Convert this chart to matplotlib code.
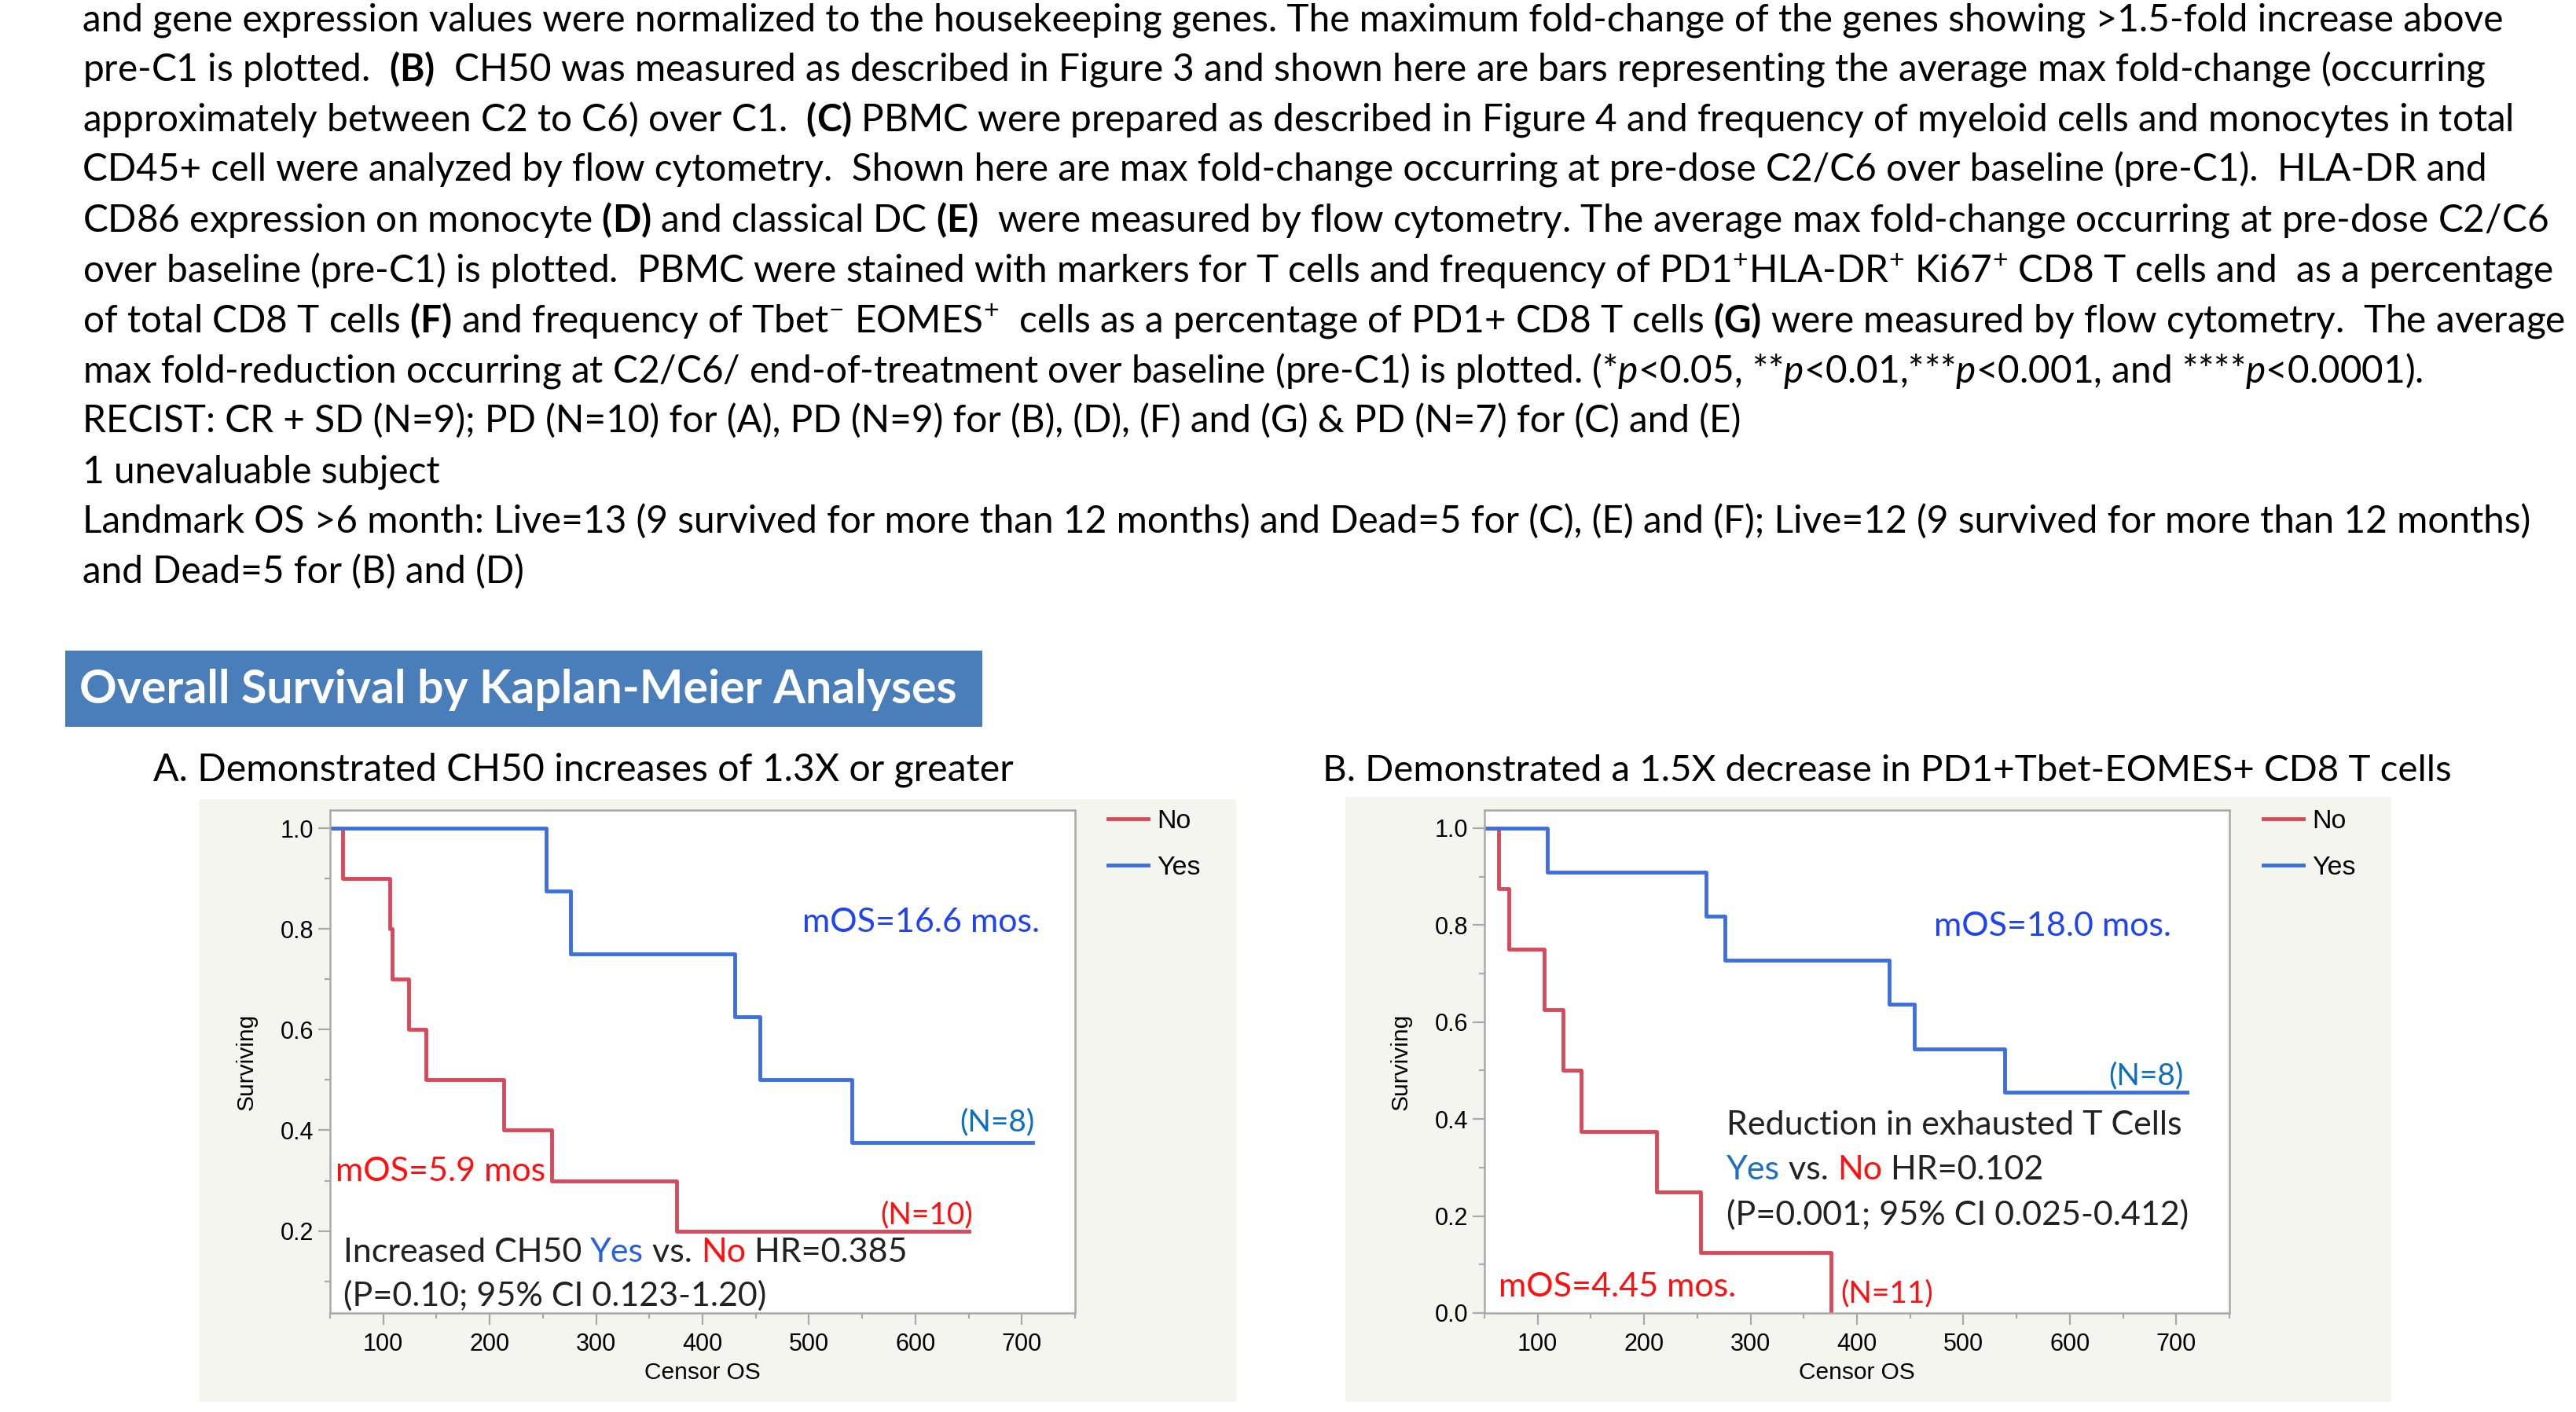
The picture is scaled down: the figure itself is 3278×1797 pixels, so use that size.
import matplotlib
matplotlib.use("Agg")
import matplotlib.pyplot as plt
from matplotlib.patches import Rectangle
from matplotlib.ticker import MultipleLocator, FormatStrFormatter

# === DATA ===
# A: CH50 increase >= 1.3X
a_no_time = [0, 62, 106, 108, 124, 140, 213, 258, 376, 650]
a_no_surv = [1.0, 0.9, 0.8, 0.7, 0.6, 0.5, 0.4, 0.3, 0.2, 0.2]
a_yes_time = [0, 253, 276, 430, 454, 540, 710]
a_yes_surv = [1.0, 0.875, 0.75, 0.625, 0.5, 0.375, 0.375]

# B: 1.5X decrease in PD1+Tbet-EOMES+ CD8 T cells
b_no_time = [0, 63, 73, 106, 124, 141, 212, 253, 376]
b_no_surv = [1.0, 0.875, 0.75, 0.625, 0.5, 0.375, 0.25, 0.125, 0.0]
b_yes_time = [0, 109, 258, 276, 430, 454, 539, 710]
b_yes_surv = [1.0, 0.909, 0.818, 0.727, 0.636, 0.545, 0.455, 0.455]

x_ticks = [100, 200, 300, 400, 500, 600, 700]

caption_lines = [
    "and gene expression values were normalized to the housekeeping genes. The maximum fold-change of the genes showing >1.5-fold increase above",
    r"pre-C1 is plotted.  $\mathbf{(B)}$  CH50 was measured as described in Figure 3 and shown here are bars representing the average max fold-change (occurring",
    r"approximately between C2 to C6) over C1.  $\mathbf{(C)}$ PBMC were prepared as described in Figure 4 and frequency of myeloid cells and monocytes in total",
    "CD45+ cell were analyzed by flow cytometry.  Shown here are max fold-change occurring at pre-dose C2/C6 over baseline (pre-C1).  HLA-DR and",
    r"CD86 expression on monocyte $\mathbf{(D)}$ and classical DC $\mathbf{(E)}$  were measured by flow cytometry. The average max fold-change occurring at pre-dose C2/C6",
    r"over baseline (pre-C1) is plotted.  PBMC were stained with markers for T cells and frequency of PD1$^{+}$HLA-DR$^{+}$ Ki67$^{+}$ CD8 T cells and  as a percentage",
    r"of total CD8 T cells $\mathbf{(F)}$ and frequency of Tbet$^{-}$ EOMES$^{+}$  cells as a percentage of PD1+ CD8 T cells $\mathbf{(G)}$ were measured by flow cytometry.  The average",
    r"max fold-reduction occurring at C2/C6/ end-of-treatment over baseline (pre-C1) is plotted. (*$p$<0.05, **$p$<0.01,***$p$<0.001, and ****$p$<0.0001).",
    "RECIST: CR + SD (N=9); PD (N=10) for (A), PD (N=9) for (B), (D), (F) and (G) & PD (N=7) for (C) and (E)",
    "1 unevaluable subject",
    "Landmark OS >6 month: Live=13 (9 survived for more than 12 months) and Dead=5 for (C), (E) and (F); Live=12 (9 survived for more than 12 months)",
    "and Dead=5 for (B) and (D)",
]

# === STYLE ===
RED = '#d64a5b'
BLUE = '#3f6fdc'
SPINE = '#a9a9a9'
PANEL = '#f5f5f0'
TXT = '#222222'
FONT = 'Lato'
NOTE_SIZE = 31
N_SIZE = 28

plt.rcParams['font.family'] = ['Liberation Sans', 'DejaVu Sans']
plt.rcParams['mathtext.fontset'] = 'custom'
plt.rcParams['mathtext.rm'] = FONT
plt.rcParams['mathtext.it'] = FONT + ':italic'
plt.rcParams['mathtext.bf'] = FONT + ':bold'

W, H = 3278, 1797
fig = plt.figure(figsize=(W / 100, H / 100), dpi=100)
fig.patch.set_facecolor('white')


def fx(px):
    return px / W


def fy(py):
    return 1 - py / H


def note(x, y, s, color, size=NOTE_SIZE):
    fig.text(fx(x), fy(y), s, fontsize=size, family=FONT, color=color, va='center')


def rainbow(ax, x, y, pieces, size):
    s, c = pieces[0]
    t = fig.text(fx(x), fy(y), s, color=c, fontsize=size, family=FONT,
                 ha='left', va='center')
    for s, c in pieces[1:]:
        t = ax.annotate(s, xy=(1, 0), xycoords=t, color=c, fontsize=size,
                        family=FONT, ha='left', va='bottom')


# caption paragraph (runs off the right edge like the slide crop)
for i, line in enumerate(caption_lines):
    fig.text(fx(105), fy(39 + 63.9 * i), line, fontsize=34.4, family=FONT,
             color='black', ha='left', va='baseline')

# header box
fig.add_artist(Rectangle((fx(83), fy(925)), fx(1250) - fx(83), (925 - 828) / H,
                         transform=fig.transFigure, facecolor='#4a7ebb',
                         edgecolor='none', zorder=0))
fig.text(fx(101), fy(895), "Overall Survival by Kaplan-Meier Analyses",
         fontsize=42.5, family=FONT, weight='bold', color='white', va='baseline')

fig.text(fx(195), fy(994), "A. Demonstrated CH50 increases of 1.3X or greater",
         fontsize=34.7, family=FONT, color='black', va='baseline')
fig.text(fx(1683), fy(994), "B. Demonstrated a 1.5X decrease in PD1+Tbet-EOMES+ CD8 T cells",
         fontsize=34.2, family=FONT, color='black', va='baseline')

# panel backgrounds
for left, right, top in [(253, 1573, 1017), (1712, 3043, 1014)]:
    fig.add_artist(Rectangle((fx(left), fy(1784)), fx(right) - fx(left), (1784 - top) / H,
                             transform=fig.transFigure, facecolor=PANEL,
                             edgecolor='none', zorder=0))


def km_axes(left, ylim, yticks):
    ax = fig.add_axes([fx(left), fy(1671), (948) / W, (1671 - 1031) / H])
    ax.set_facecolor('white')
    ax.set_xlim(50, 750)
    ax.set_ylim(*ylim)
    ax.set_xticks(x_ticks)
    ax.xaxis.set_minor_locator(MultipleLocator(50))
    ax.set_yticks(yticks)
    ax.yaxis.set_minor_locator(MultipleLocator(0.1))
    ax.yaxis.set_major_formatter(FormatStrFormatter('%.1f'))
    for sp in ax.spines.values():
        sp.set_color(SPINE)
        sp.set_linewidth(1.8)
    ax.tick_params(which='both', direction='out', color=SPINE, width=1.6,
                   labelsize=22, labelcolor='black')
    ax.tick_params(which='major', length=11)
    ax.tick_params(which='minor', length=5)
    ax.tick_params(axis='x', pad=7)
    ax.tick_params(axis='y', pad=4)
    ax.set_xlabel("Censor OS", fontsize=21.5, labelpad=5)
    ax.set_ylabel("Surviving", fontsize=21.5, labelpad=21)
    return ax


def km_legend(ax, lines, xstart):
    ax.legend(lines, ['No', 'Yes'], loc='upper left',
              bbox_to_anchor=(fx(xstart), fy(1030)), bbox_transform=fig.transFigure,
              frameon=False, fontsize=24.5, borderpad=0, borderaxespad=0,
              handlelength=1.5, handletextpad=0.32, labelspacing=0.82)


# === PANEL A ===
axA = km_axes(420, (0.037, 1.036), [0.2, 0.4, 0.6, 0.8, 1.0])
lnA_no, = axA.step(a_no_time, a_no_surv, where='post', color=RED, lw=3.5)
lnA_yes, = axA.step(a_yes_time, a_yes_surv, where='post', color=BLUE, lw=3.5)
km_legend(axA, [lnA_no, lnA_yes], 1410)

note(1021, 1174, "mOS=16.6 mos.", '#2045f0')
note(1221, 1428, "(N=8)", '#0b6fc2', N_SIZE)
note(427, 1491, "mOS=5.9 mos", '#ff1010')
note(1120, 1546, "(N=10)", '#ff1010', N_SIZE)
rainbow(axA, 437, 1594, [("Increased CH50 ", TXT), ("Yes", '#2860e0'),
                         (" vs. ", TXT), ("No", '#ff1010'), (" HR=0.385", TXT)], NOTE_SIZE)
note(437, 1649, "(P=0.10; 95% CI 0.123-1.20)", TXT)

# === PANEL B ===
axB = km_axes(1889, (0.0, 1.037), [0.0, 0.2, 0.4, 0.6, 0.8, 1.0])
lnB_no, = axB.step(b_no_time, b_no_surv, where='post', color=RED, lw=3.5)
lnB_yes, = axB.step(b_yes_time, b_yes_surv, where='post', color=BLUE, lw=3.5)
km_legend(axB, [lnB_no, lnB_yes], 2880)

note(2461, 1179, "mOS=18.0 mos.", '#2045f0')
note(2683, 1369, "(N=8)", '#0b6fc2', N_SIZE)
note(2197, 1432, "Reduction in exhausted T Cells", TXT)
rainbow(axB, 2197, 1489, [("Yes", '#1f6fc4'), (" vs. ", TXT), ("No", '#ff1010'),
                          (" HR=0.102", TXT)], NOTE_SIZE)
note(2197, 1546, "(P=0.001; 95% CI 0.025-0.412)", TXT)
note(1907, 1638, "mOS=4.45 mos.", '#ff1010')
note(2342, 1646, "(N=11)", '#ff1010', N_SIZE)

fig.savefig('out.png', dpi=100)
